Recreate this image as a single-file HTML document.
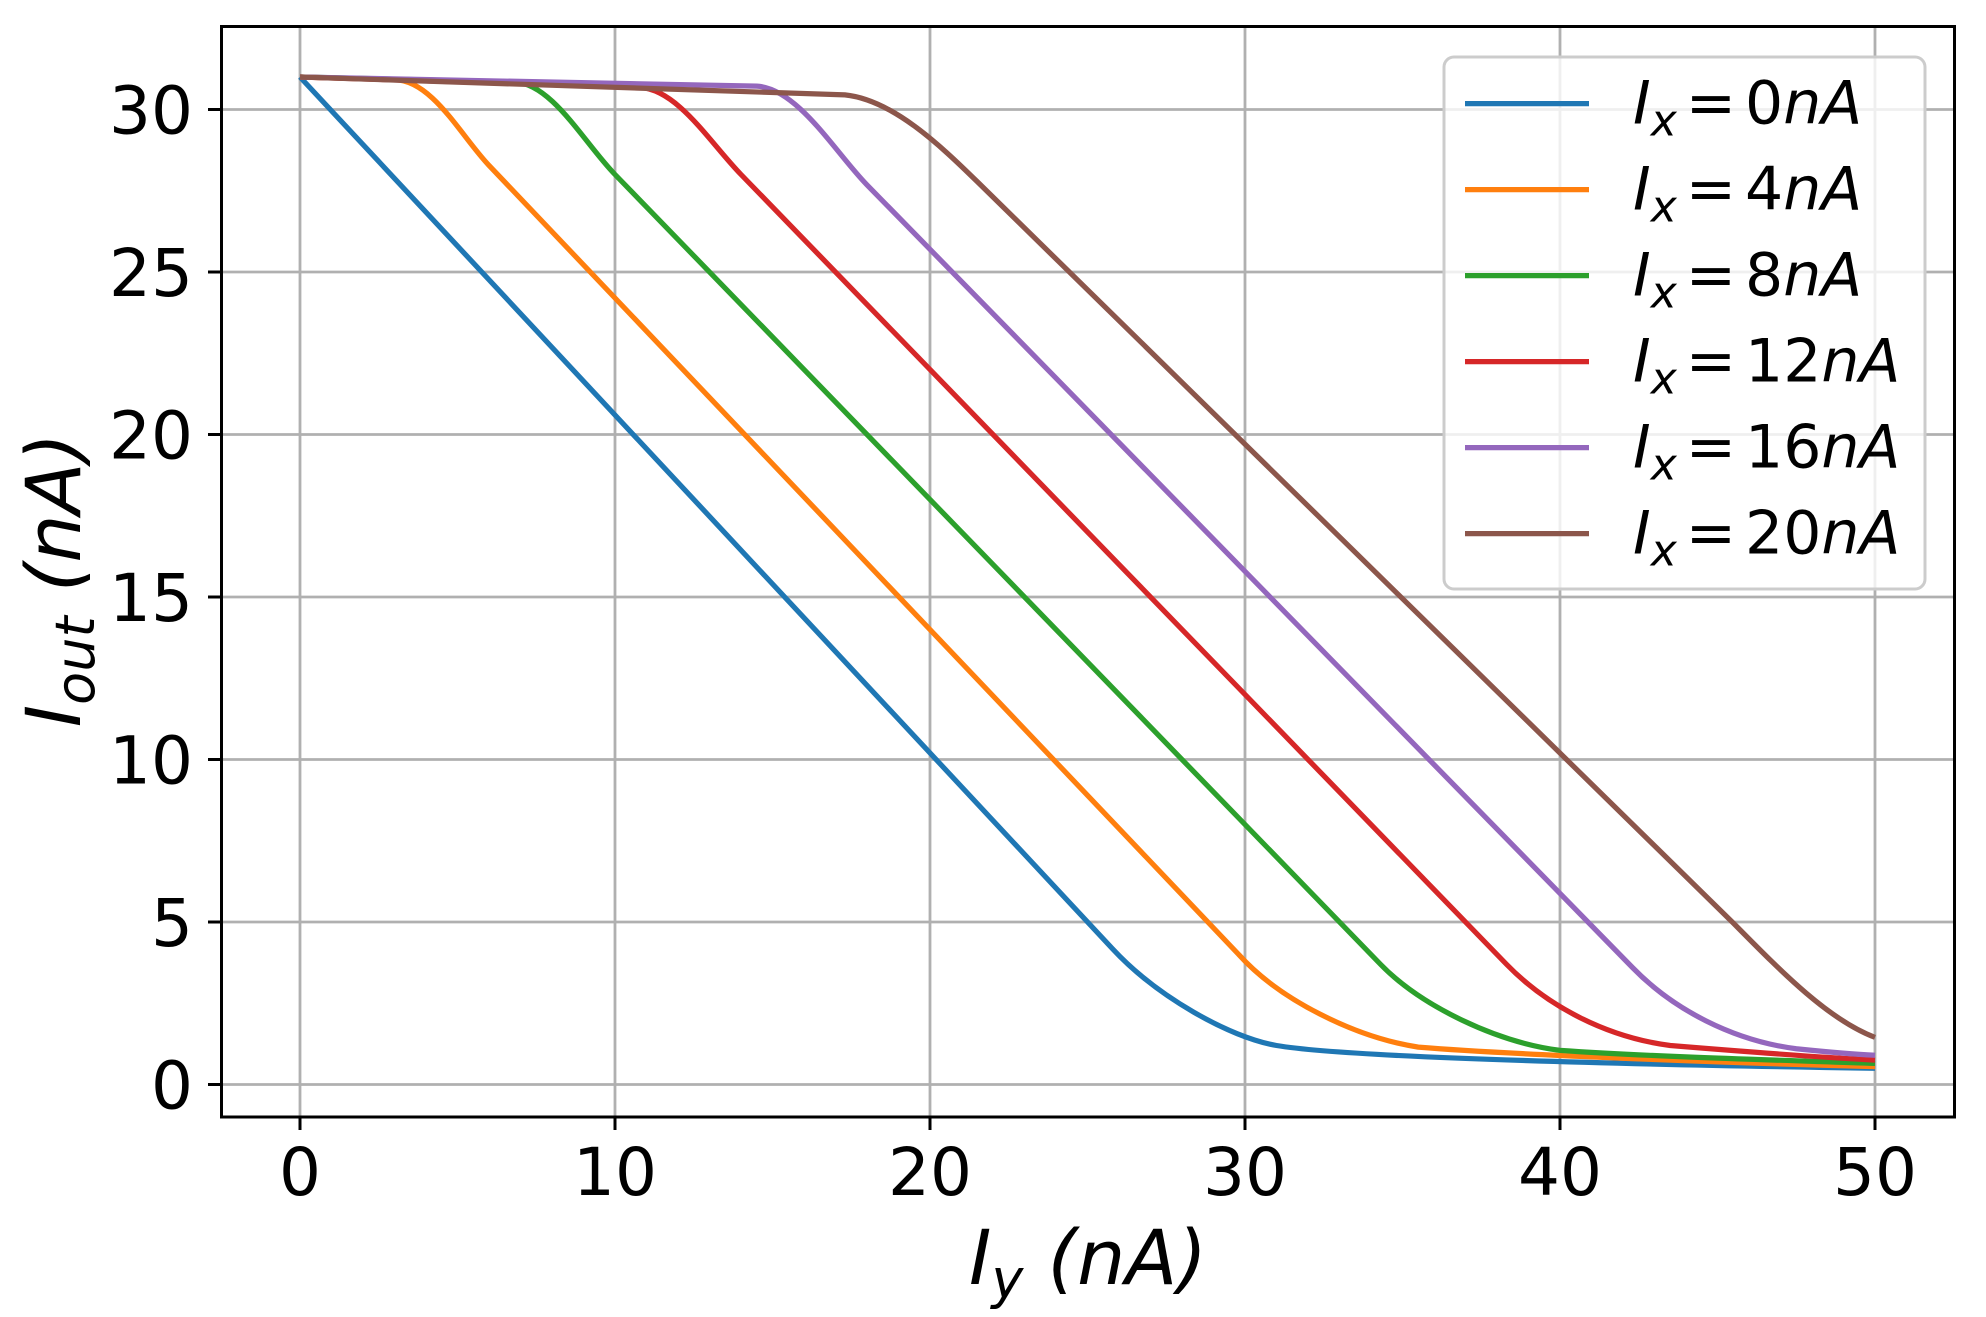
<!DOCTYPE html>
<html><head><meta charset="utf-8"><style>
html,body{margin:0;padding:0;background:#fff}
svg{display:block}
text{font-family:"DejaVu Sans","Liberation Sans",sans-serif;fill:#000}
</style></head><body>
<svg width="1986" height="1317" viewBox="0 0 1986 1317" xmlns="http://www.w3.org/2000/svg">
<rect width="1986" height="1317" fill="#fff"/>
<g stroke="#b0b0b0" stroke-width="2.8">
<line x1="300" x2="300" y1="27" y2="1117"/><line x1="615" x2="615" y1="27" y2="1117"/><line x1="930" x2="930" y1="27" y2="1117"/><line x1="1245" x2="1245" y1="27" y2="1117"/><line x1="1560" x2="1560" y1="27" y2="1117"/><line x1="1875" x2="1875" y1="27" y2="1117"/>
<line x1="221" x2="1955" y1="1084.5" y2="1084.5"/><line x1="221" x2="1955" y1="922" y2="922"/><line x1="221" x2="1955" y1="759.5" y2="759.5"/><line x1="221" x2="1955" y1="597" y2="597"/><line x1="221" x2="1955" y1="434.5" y2="434.5"/><line x1="221" x2="1955" y1="272" y2="272"/><line x1="221" x2="1955" y1="109.5" y2="109.5"/>
</g>
<g transform="translate(300,1084.5) scale(31.5,-32.5)" fill="none" stroke-linejoin="round" stroke-linecap="butt">
<path vector-effect="non-scaling-stroke" stroke-width="5.2" stroke="#1f77b4" d="M0 31 L25.8 4.17 C27.2 2.71 29.5 1.45 31 1.2 C33 0.87 40 0.65 50 0.5"/>
<path vector-effect="non-scaling-stroke" stroke-width="5.2" stroke="#ff7f0e" d="M0 31 L3 30.92 C4.2 30.9 5.1 29.2 6 28.28 L29.8 4.0 C31.1 2.6 33.5 1.45 35.5 1.15 C38 0.95 44 0.7 50 0.55"/>
<path vector-effect="non-scaling-stroke" stroke-width="5.2" stroke="#2ca02c" d="M0 31 L6.8 30.85 C8 30.8 9 29 10 28 L34.3 3.7 C35.6 2.4 38 1.3 40 1.05 C43 0.85 47 0.75 50 0.65"/>
<path vector-effect="non-scaling-stroke" stroke-width="5.2" stroke="#d62728" d="M0 31 L10.8 30.68 C12 30.6 13 29 14 28 L38.3 3.7 C39.6 2.4 41.5 1.45 43.5 1.2 C46 1.0 48 0.85 50 0.75"/>
<path vector-effect="non-scaling-stroke" stroke-width="5.2" stroke="#9467bd" d="M0 31 L14.5 30.72 C15.8 30.65 17 28.67 18 27.68 L42.3 3.6 C43.6 2.3 45.5 1.35 47.5 1.1 C48.5 1.0 49.3 0.93 50 0.9"/>
<path vector-effect="non-scaling-stroke" stroke-width="5.2" stroke="#8c564b" d="M0 31 L17.3 30.45 C18.8 30.3 20.3 28.92 21.5 27.78 L45.5 4.97 C47 3.5 48.5 2.0 50 1.45"/>
</g>
<g stroke="#000" stroke-width="3">
<line x1="300" x2="300" y1="1117" y2="1130"/><line x1="615" x2="615" y1="1117" y2="1130"/><line x1="930" x2="930" y1="1117" y2="1130"/><line x1="1245" x2="1245" y1="1117" y2="1130"/><line x1="1560" x2="1560" y1="1117" y2="1130"/><line x1="1875" x2="1875" y1="1117" y2="1130"/>
<line x1="208" x2="221" y1="1084.5" y2="1084.5"/><line x1="208" x2="221" y1="922" y2="922"/><line x1="208" x2="221" y1="759.5" y2="759.5"/><line x1="208" x2="221" y1="597" y2="597"/><line x1="208" x2="221" y1="434.5" y2="434.5"/><line x1="208" x2="221" y1="272" y2="272"/><line x1="208" x2="221" y1="109.5" y2="109.5"/>
</g>
<rect x="221.5" y="26.5" width="1733" height="1090.5" fill="none" stroke="#000" stroke-width="3"/>
<g font-size="66">
<text x="300" y="1195" text-anchor="middle">0</text><text x="615" y="1195" text-anchor="middle">10</text><text x="930" y="1195" text-anchor="middle">20</text><text x="1245" y="1195" text-anchor="middle">30</text><text x="1560" y="1195" text-anchor="middle">40</text><text x="1875" y="1195" text-anchor="middle">50</text>
<g text-anchor="end"><text x="193" y="1108.5">0</text><text x="193" y="946">5</text><text x="193" y="783.5">10</text><text x="193" y="621">15</text><text x="193" y="458.5">20</text><text x="193" y="296">25</text><text x="193" y="133.5">30</text></g>
</g>
<rect x="1444" y="57" width="481" height="532" rx="10" fill="#fff" fill-opacity="0.8" stroke="#cccccc" stroke-width="3"/>
<g stroke-width="5.2">
<line x1="1465" x2="1589" y1="103.6" y2="103.6" stroke="#1f77b4"/>
<line x1="1465" x2="1589" y1="189.6" y2="189.6" stroke="#ff7f0e"/>
<line x1="1465" x2="1589" y1="275.6" y2="275.6" stroke="#2ca02c"/>
<line x1="1465" x2="1589" y1="361.6" y2="361.6" stroke="#d62728"/>
<line x1="1465" x2="1589" y1="447.6" y2="447.6" stroke="#9467bd"/>
<line x1="1465" x2="1589" y1="533.6" y2="533.6" stroke="#8c564b"/>
</g>
<g font-size="60">
<text x="1633" y="123.6"><tspan font-style="italic">I</tspan><tspan font-style="italic" font-size="44" dy="12">x</tspan><tspan dy="-12" dx="9">=</tspan><tspan dx="9">0</tspan><tspan font-style="italic">nA</tspan></text>
<text x="1633" y="209.6"><tspan font-style="italic">I</tspan><tspan font-style="italic" font-size="44" dy="12">x</tspan><tspan dy="-12" dx="9">=</tspan><tspan dx="9">4</tspan><tspan font-style="italic">nA</tspan></text>
<text x="1633" y="295.6"><tspan font-style="italic">I</tspan><tspan font-style="italic" font-size="44" dy="12">x</tspan><tspan dy="-12" dx="9">=</tspan><tspan dx="9">8</tspan><tspan font-style="italic">nA</tspan></text>
<text x="1633" y="381.6"><tspan font-style="italic">I</tspan><tspan font-style="italic" font-size="44" dy="12">x</tspan><tspan dy="-12" dx="9">=</tspan><tspan dx="9">12</tspan><tspan font-style="italic">nA</tspan></text>
<text x="1633" y="467.6"><tspan font-style="italic">I</tspan><tspan font-style="italic" font-size="44" dy="12">x</tspan><tspan dy="-12" dx="9">=</tspan><tspan dx="9">16</tspan><tspan font-style="italic">nA</tspan></text>
<text x="1633" y="553.6"><tspan font-style="italic">I</tspan><tspan font-style="italic" font-size="44" dy="12">x</tspan><tspan dy="-12" dx="9">=</tspan><tspan dx="9">20</tspan><tspan font-style="italic">nA</tspan></text>
</g>
<text transform="translate(80,580) rotate(-90)" text-anchor="middle" font-size="76" font-style="italic">I<tspan font-size="54" dy="14">out</tspan><tspan dy="-14"> (nA)</tspan></text>
<text x="1088" y="1284" text-anchor="middle" font-size="76" font-style="italic">I<tspan font-size="54" dy="14">y</tspan><tspan dy="-14"> (nA)</tspan></text>
</svg>
</body></html>
